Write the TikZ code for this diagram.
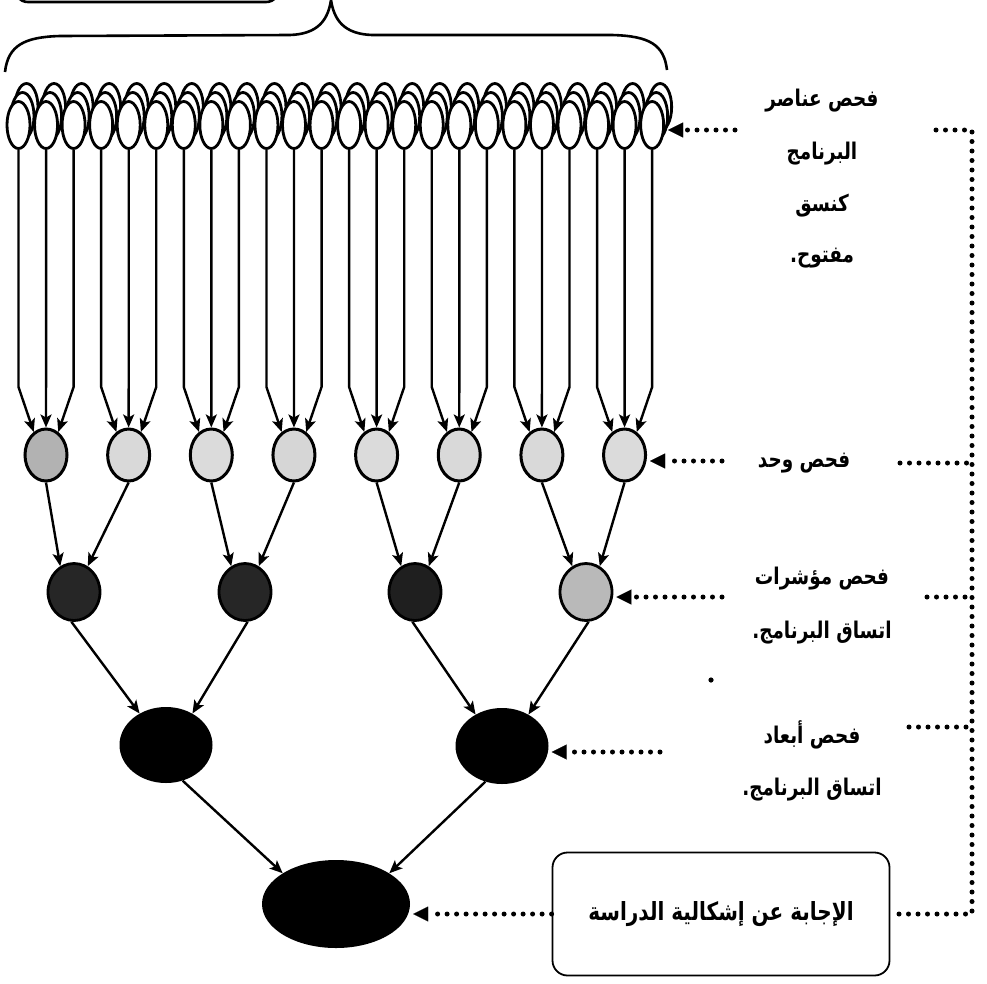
\documentclass[tikz,border=0pt]{standalone}
\usepackage{fontspec}
\newfontfamily\arabicfont[Script=Arabic,FakeStretch=0.8]{DejaVu Sans}
\TeXXeTstate=1
\usetikzlibrary{shapes.geometric,arrows.meta,calc}
\newcommand\artxt[1]{{\arabicfont\bfseries\beginR #1\endR}}

\begin{document}
\begin{tikzpicture}[x=1pt,y=-1pt,
  seed/.style={ellipse,draw,line width=2.8pt,fill=white,minimum width=23pt,minimum height=47pt,inner sep=0pt},
  unit/.style={ellipse,draw,line width=3pt,minimum width=42pt,minimum height=52pt,inner sep=0pt},
  indic/.style={ellipse,draw,line width=2.8pt,minimum width=52pt,minimum height=57pt,inner sep=0pt},
  dimen/.style={ellipse,fill=black,minimum width=93pt,minimum height=76pt,inner sep=0pt},
  answer/.style={ellipse,fill=black,minimum width=148pt,minimum height=88pt,inner sep=0pt},
  feed/.style={line width=2.4pt,-{Stealth[length=13pt,width=11pt,inset=3pt]}},
  dots/.style={line width=5pt,line cap=round,dash pattern=on 0pt off 9.5pt},
  ptr/.style={dots,-{Triangle[length=15pt,width=15pt,line width=0.1pt]},shorten >=3pt},
  lab/.style={font=\fontsize{23}{25}\selectfont,inner sep=0pt,anchor=center},
  ]
\useasboundingbox (0,0) rectangle (987,983);
\clip (0,0) rectangle (987,983);

% box above the brace, cut by the top edge
\draw[line width=2.6pt,rounded corners=14pt] (14,-60) rectangle (280,2);

% brace over the element row
\draw[line width=2.6pt]
  (5,72) .. controls (8,45) and (25,37) .. (60,36) -- (290,35)
  .. controls (318,34) and (328,20) .. (331,0)
  .. controls (334,20) and (344,34) .. (372,35) -- (612,35)
  .. controls (650,36) and (664,45) .. (667,70);

% program elements: 24 stacks of three ellipses
\foreach \i in {0,...,23}{
  \pgfmathsetmacro\cx{18.5+27.55*\i}
  \node[seed] at (\cx+8,107) {};
  \node[seed] at (\cx+4,116) {};
  \node[seed] (c\i) at (\cx,125) {};
}

% unit level
\node[unit,fill=gray!60] (m0) at (46,455) {};
\foreach \k/\g in {1/30,2/28,3/32,4/28,5/30,6/30,7/28}{
  \node[unit,fill=gray!\g] (m\k) at (46+82.65*\k,455) {};
}

% indicator level
\node[indic,fill=black!85] (n0) at (74,592) {};
\node[indic,fill=black!85] (n1) at (245,592) {};
\node[indic,fill=black!88] (n2) at (415,592) {};
\node[indic,fill=gray!55]  (n3) at (586,592) {};

% dimension level
\node[dimen] (b0) at (166,745) {};
\node[dimen] (b1) at (502,746) {};

% answer
\node[answer] (r) at (336,904) {};

% element -> unit connectors
\coordinate (bend) at (0,387);
\foreach \i in {0,...,23}{
  \pgfmathtruncatemacro\k{int(\i/3)}
  \pgfmathtruncatemacro\j{mod(\i,3)}
  \pgfmathtruncatemacro\ang{118-28*\j}
  \draw[feed] (c\i.south) -- (c\i.south |- bend) -- (m\k.\ang);
}

% unit -> indicator
\foreach \a/\b in {0/0,2/1,4/2,6/3}{
  \draw[feed] (m\a.south) -- (n\b.118);
}
\foreach \a/\b in {1/0,3/1,5/2,7/3}{
  \draw[feed] (m\a.south) -- (n\b.62);
}

% indicator -> dimension
\draw[feed] (n0.-95) -- (b0.130);
\draw[feed] (n1.-85) -- (b0.50);
\draw[feed] (n2.-95) -- (b1.130);
\draw[feed] (n3.-85) -- (b1.50);

% dimension -> answer
\draw[feed] (b0.-65) -- (r.150);
\draw[feed] (b1.-115) -- (r.30);

% labels
\node[lab] (t0a) at (822,101) {\artxt{فحص عناصر}};
\node[lab] (t0b) at (822,154) {\artxt{البرنامج}};
\node[lab] (t0c) at (822,206) {\artxt{كنسق}};
\node[lab] (t0d) at (822,258) {\artxt{مفتوح.}};
\node[lab] (t1)  at (804,463) {\artxt{فحص وحد}};
\node[lab] (t2a) at (822,579) {\artxt{فحص مؤشرات}};
\node[lab] (t2b) at (822,633) {\artxt{اتساق البرنامج.}};
\node[lab] (t3a) at (812,735) {\artxt{فحص أبعاد}};
\node[lab] (t3b) at (812,790) {\artxt{اتساق البرنامج.}};
\node[draw,line width=1.8pt,rounded corners=15pt,minimum width=337pt,minimum height=123pt,
      font=\fontsize{25}{27}\selectfont] (box) at (721,914) {\artxt{الإجابة عن إشكالية الدراسة}};

% small mark below the indicator label
\fill (711,680) circle (2.6pt);

% pointers to each level
\coordinate (p0) at (735,130);
\coordinate (p1) at (722,461);
\coordinate (p2) at (722,597);
\coordinate (p3) at (660,752);
\draw[ptr] (p0) -- (p0 -| c23.east);
\draw[ptr] (p1) -- (p1 -| m7.east);
\draw[ptr] (p2) -- (p2 -| n3.east);
\draw[ptr] (p3) -- (p3 -| b1.east);
\draw[ptr] (box.west) -- (box.west -| r.east);

% right-hand dotted rail
\coordinate (v0) at (972,130);
\coordinate (v4) at (972,914);
\coordinate (q0) at (936,130);
\coordinate (q1) at (900,463);
\coordinate (q2) at (927,597);
\coordinate (q3) at (909,727);
\draw[dots] (q0) -- (v0) -- (v4) -- (box.east);
\draw[dots] (q1) -- (q1 -| v0);
\draw[dots] (q2) -- (q2 -| v0);
\draw[dots] (q3) -- (q3 -| v0);
\end{tikzpicture}
\end{document}
